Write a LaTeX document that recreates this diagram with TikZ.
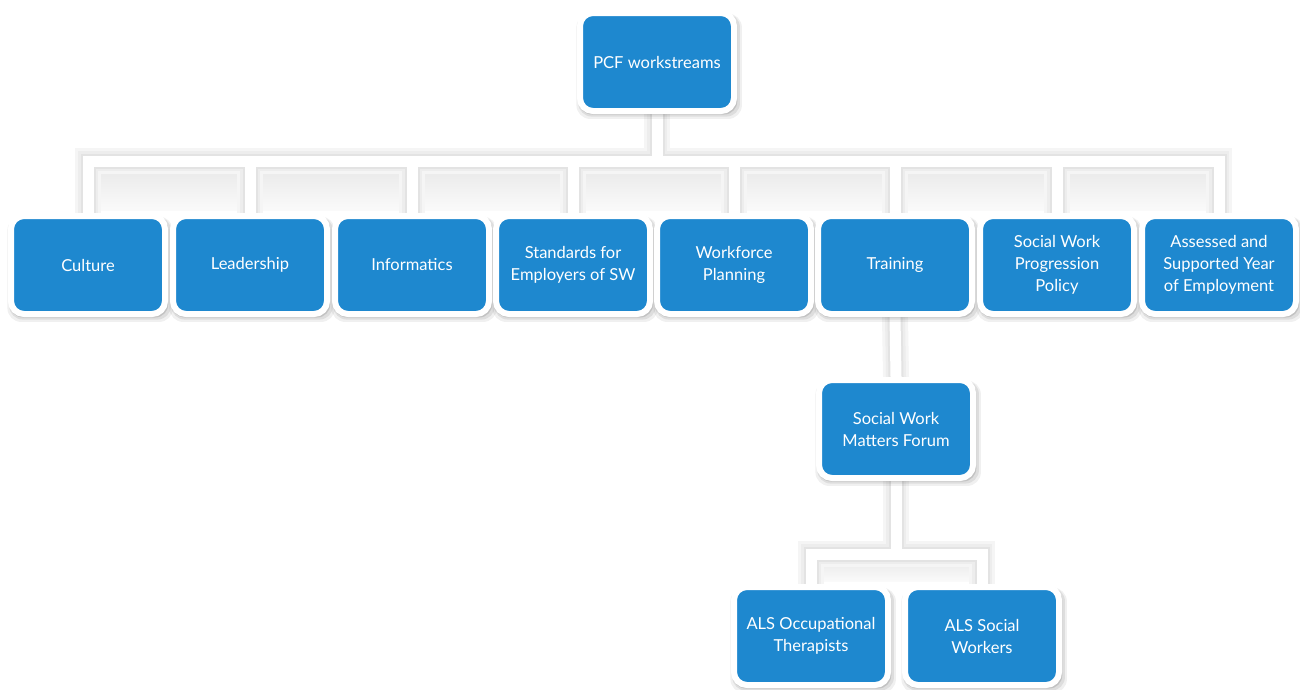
\documentclass[tikz,border=0pt]{standalone}
\usepackage{fontspec}
\setmainfont{Lato}
\usetikzlibrary{shadows,calc}
\definecolor{boxblue}{RGB}{30,136,207}
\pgfdeclarelayer{background}
\pgfsetlayers{background,main}
\begin{document}
\begin{tikzpicture}[x=1pt,y=-1pt,
  wbox/.style={rectangle, rounded corners=13pt, fill=boxblue, draw=white, line width=6pt,
    minimum width=154pt, minimum height=98pt, text=white, align=center,
    font=\fontsize{16.5}{22}\selectfont,
    general shadow={shadow scale=1.075, shadow xshift=2pt, shadow yshift=-4pt, fill=black, opacity=0.06},
    general shadow={shadow scale=1.05, shadow xshift=2pt, shadow yshift=-3pt, fill=black, opacity=0.08},
    general shadow={shadow scale=1.03, shadow xshift=1pt, shadow yshift=-2pt, fill=black, opacity=0.12}},
  pipesh1/.style={draw=black!4, line width=26pt, line join=miter},
  pipesh2/.style={draw=black!7, line width=20pt, line join=miter},
  pipesh3/.style={draw=black!11, line width=15pt, line join=miter},
  pipe/.style={draw=white, line width=11pt, line join=miter},
  undershade/.style={top color=black!9, bottom color=black!2, draw=none}]
\useasboundingbox (0,0) rectangle (1300,689);

\node[wbox] (pcf) at (657,62) {PCF workstreams};
\node[wbox] (culture) at (88,265) {Culture};
\node[wbox] (leader) at (250,265) {Leadership};
\node[wbox] (informatics) at (412,265) {Informatics};
\node[wbox] (standards) at (573,265) {Standards for\\Employers of SW};
\node[wbox] (workforce) at (734,265) {Workforce\\Planning};
\node[wbox] (training) at (895,265) {Training};
\node[wbox] (swpp) at (1057,265) {Social Work\\Progression\\Policy};
\node[wbox] (asye) at (1219,265) {Assessed and\\Supported Year\\of Employment};
\node[wbox] (swmf) at (896,429) {Social Work\\Matters Forum};
\node[wbox] (alsot) at (811,636) {ALS Occupational\\Therapists};
\node[wbox] (alssw) at (982,636) {ALS Social\\Workers};

\coordinate (bus) at (0,161);
\coordinate (bus2) at (0,554);

\begin{pgfonlayer}{background}
  \fill[undershade] ($(culture.north |- bus)+(0,4)$) rectangle ($(asye.north)+(0,-3)$);
  \fill[undershade] ($(alsot.north |- bus2)+(0,4)$) rectangle ($(alssw.north)+(0,-3)$);
  \foreach \s in {pipesh1,pipesh2,pipesh3,pipe}{
    \draw[\s] (pcf.south) -- (pcf.south |- bus);
    \draw[\s] (culture.north) -- (culture.north |- bus) -- (asye.north |- bus) -- (asye.north);
    \foreach \n in {leader,informatics,standards,workforce,training,swpp}
      \draw[\s] (\n.north) -- (\n.north |- bus);
    \draw[\s] (training.south) -- (swmf.north);
    \draw[\s] (swmf.south) -- (swmf.south |- bus2);
    \draw[\s] (alsot.north) -- (alsot.north |- bus2) -- (alssw.north |- bus2) -- (alssw.north);
  }
\end{pgfonlayer}
\end{tikzpicture}
\end{document}
